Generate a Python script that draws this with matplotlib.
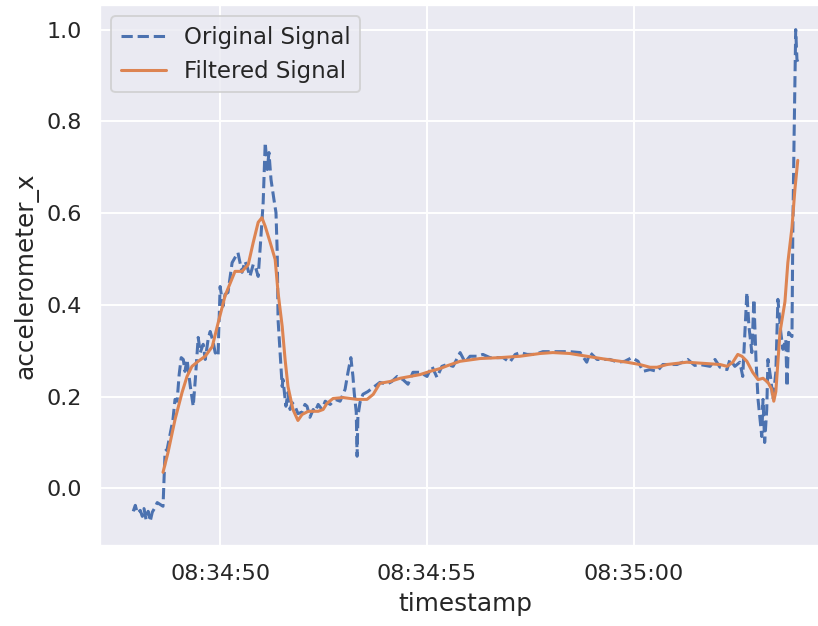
"""Accelerometer x-axis: raw samples against the smoothed signal."""

import matplotlib

matplotlib.use("Agg")
import matplotlib.dates as mdates
import matplotlib.pyplot as plt
import pandas as pd
import seaborn as sns

START = pd.Timestamp("2023-01-01 08:34:47")

# seconds after START, raw accelerometer_x
raw_seconds = [
    0.90, 0.95, 1.00, 1.07, 1.12, 1.16, 1.21, 1.26, 1.31, 1.36, 1.43, 1.48, 1.55, 1.62,
    1.67, 1.72, 1.79, 1.86, 1.91, 1.96, 2.01, 2.06, 2.11, 2.15, 2.20, 2.28, 2.35, 2.40,
    2.47, 2.52, 2.59, 2.64, 2.71, 2.76, 2.83, 2.88, 2.95, 3.00, 3.07, 3.12, 3.19, 3.29,
    3.36, 3.43, 3.53, 3.60, 3.65, 3.72, 3.80, 3.85, 3.92, 3.97, 4.04, 4.09, 4.14, 4.18,
    4.23, 4.30, 4.35, 4.38, 4.40, 4.45, 4.50, 4.52, 4.59, 4.64, 4.69, 4.74, 4.81, 4.88,
    4.98, 5.05, 5.10, 5.17, 5.25, 5.29, 5.37, 5.46, 5.54, 5.66, 5.78, 5.90, 6.02, 6.09,
    6.16, 6.21, 6.24, 6.29, 6.31, 6.33, 6.38, 6.45, 6.57, 6.70, 6.86, 7.03, 7.15, 7.28,
    7.42, 7.54, 7.66, 7.83, 8.00, 8.12, 8.24, 8.36, 8.48, 8.63, 8.80, 8.92, 9.04, 9.21,
    9.35, 9.52, 9.69, 9.84, 10.00, 10.13, 10.25, 10.42, 10.61, 10.80, 11.04, 11.21,
    11.45, 11.70, 11.86, 11.94, 12.11, 12.25, 12.42, 12.61, 12.78, 12.95, 13.10, 13.22,
    13.39, 13.56, 13.70, 13.87, 14.04, 14.18, 14.30, 14.47, 14.59, 14.84, 14.96, 15.08,
    15.25, 15.32, 15.44, 15.56, 15.63, 15.73, 15.78, 15.85, 15.90, 15.95, 16.00, 16.04,
    16.09, 16.12, 16.16, 16.21, 16.24, 16.31, 16.36, 16.43, 16.48, 16.55, 16.60, 16.67,
    16.70, 16.74, 16.82, 16.84, 16.87, 16.91, 16.94, 16.96,
]
raw_values = [
    -0.050, -0.037, -0.054, -0.048, -0.061, -0.044, -0.068, -0.050, -0.072, -0.052,
    -0.041, -0.031, -0.035, -0.039, 0.081, 0.085, 0.118, 0.150, 0.194, 0.190, 0.248,
    0.285, 0.281, 0.255, 0.281, 0.222, 0.179, 0.237, 0.329, 0.296, 0.314, 0.281, 0.325,
    0.342, 0.320, 0.296, 0.288, 0.440, 0.397, 0.423, 0.427, 0.492, 0.503, 0.514, 0.471,
    0.495, 0.484, 0.462, 0.488, 0.484, 0.462, 0.527, 0.623, 0.754, 0.695, 0.732, 0.673,
    0.630, 0.601, 0.514, 0.368, 0.296, 0.222, 0.237, 0.179, 0.209, 0.172, 0.187, 0.179,
    0.163, 0.166, 0.183, 0.179, 0.155, 0.172, 0.166, 0.183, 0.172, 0.190, 0.183, 0.194,
    0.190, 0.216, 0.253, 0.285, 0.244, 0.209, 0.166, 0.070, 0.157, 0.187, 0.205, 0.211,
    0.220, 0.231, 0.227, 0.233, 0.244, 0.237, 0.227, 0.253, 0.253, 0.244, 0.266, 0.242,
    0.266, 0.270, 0.266, 0.296, 0.275, 0.288, 0.288, 0.292, 0.285, 0.285, 0.285, 0.275,
    0.292, 0.296, 0.292, 0.292, 0.298, 0.298, 0.298, 0.298, 0.296, 0.275, 0.296, 0.281,
    0.281, 0.281, 0.275, 0.277, 0.285, 0.277, 0.255, 0.259, 0.255, 0.270, 0.270, 0.270,
    0.275, 0.281, 0.268, 0.270, 0.266, 0.281, 0.264, 0.259, 0.281, 0.266, 0.275, 0.244,
    0.427, 0.353, 0.296, 0.412, 0.281, 0.194, 0.157, 0.113, 0.194, 0.100, 0.172, 0.281,
    0.237, 0.194, 0.253, 0.412, 0.340, 0.303, 0.325, 0.222, 0.340, 0.331, 0.558, 0.760,
    1.000, 0.935, 0.930,
]

# seconds after START, smoothed accelerometer_x
smooth_seconds = [
    1.62, 1.74, 1.91, 2.08, 2.20, 2.32, 2.47, 2.64, 2.81, 2.95, 3.12, 3.36, 3.53, 3.68,
    3.80, 3.92, 4.01, 4.09, 4.21, 4.33, 4.40, 4.50, 4.57, 4.64, 4.76, 4.88, 4.98, 5.13,
    5.37, 5.49, 5.58, 5.73, 5.97, 6.31, 6.55, 6.70, 6.86, 7.11, 7.35, 7.59, 7.83, 8.07,
    8.31, 8.51, 8.80, 9.28, 9.76, 10.25, 10.73, 11.04, 11.45, 11.86, 12.35, 12.83, 13.14,
    13.39, 13.56, 13.80, 14.28, 14.76, 15.08, 15.25, 15.39, 15.51, 15.61, 15.73, 15.87,
    16.00, 16.12, 16.24, 16.33, 16.38, 16.43, 16.53, 16.65, 16.72, 16.82, 16.89, 16.96,
]
smooth_values = [
    0.035, 0.078, 0.150, 0.209, 0.244, 0.266, 0.277, 0.288, 0.309, 0.360, 0.420, 0.473,
    0.473, 0.488, 0.536, 0.580, 0.590, 0.571, 0.536, 0.499, 0.427, 0.353, 0.281, 0.222,
    0.172, 0.148, 0.161, 0.168, 0.168, 0.172, 0.185, 0.196, 0.198, 0.194, 0.194, 0.205,
    0.229, 0.233, 0.240, 0.244, 0.248, 0.255, 0.261, 0.268, 0.277, 0.283, 0.285, 0.288,
    0.294, 0.296, 0.294, 0.288, 0.281, 0.275, 0.270, 0.264, 0.264, 0.270, 0.275, 0.272,
    0.270, 0.266, 0.275, 0.292, 0.288, 0.277, 0.253, 0.237, 0.240, 0.231, 0.216, 0.190,
    0.211, 0.340, 0.407, 0.492, 0.569, 0.651, 0.715,
]

raw = pd.DataFrame({
    "timestamp": START + pd.to_timedelta(raw_seconds, unit="s"),
    "accelerometer_x": raw_values,
})
smooth = pd.DataFrame({
    "timestamp": START + pd.to_timedelta(smooth_seconds, unit="s"),
    "accelerometer_x": smooth_values,
})

sns.set_theme(context="notebook", style="darkgrid", rc={
    "xtick.labelsize": 11.7,
    "ytick.labelsize": 11.7,
    "axes.labelsize": 13,
    "legend.fontsize": 12,
    "lines.linewidth": 1.6,
})

DPI = 137
fig = plt.figure(figsize=(818 / DPI, 626 / DPI), dpi=DPI)
ax = fig.add_axes([100 / 818, 80 / 626, 731 / 818, 541 / 626])

ax.plot(raw["timestamp"], raw["accelerometer_x"], "--", label="Original Signal")
ax.plot(smooth["timestamp"], smooth["accelerometer_x"], label="Filtered Signal")

ax.xaxis.set_major_locator(mdates.SecondLocator(bysecond=range(0, 60, 5)))
ax.xaxis.set_major_formatter(mdates.DateFormatter("%H:%M:%S"))
ax.set_xlabel("timestamp")
ax.set_ylabel("accelerometer_x")
ax.legend(loc="upper left")

fig.savefig("out.png", dpi=DPI)
